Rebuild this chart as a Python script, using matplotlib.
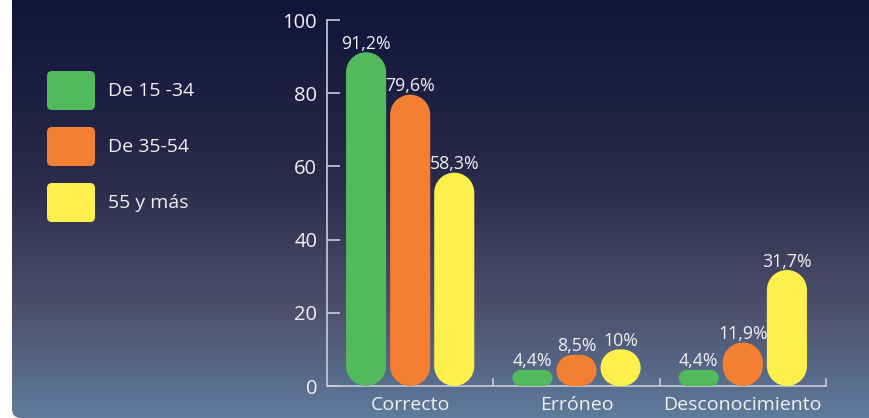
import numpy as np
import matplotlib.pyplot as plt
from matplotlib.patches import FancyBboxPatch, PathPatch
from matplotlib.path import Path
from matplotlib.colors import LinearSegmentedColormap

#data
categories = ['Correcto', 'Erróneo', 'Desconocimiento']
groups = ['De 15 -34', 'De 35-54', '55 y más']
values_15_34 = [91.2, 4.4, 4.4]
values_35_54 = [79.6, 8.5, 11.9]
values_55_mas = [58.3, 10, 31.7]
yticks = [0, 20, 40, 60, 80, 100]

colors = ['#52b95c', '#f37f32', '#fef04c']
text_color = '#f0f0f4'
axis_color = '#c9cdd8'

plt.rcParams['font.family'] = ['Open Sans', 'DejaVu Sans']

W, H = 869, 418
fig = plt.figure(figsize=(W / 100, H / 100), dpi=100)
fig.patch.set_facecolor('white')

#background panel in pixel coordinates, gradient clipped to rounded box
bg = fig.add_axes([0, 0, 1, 1])
bg.set_xlim(0, W)
bg.set_ylim(H, 0)
bg.axis('off')
cmap = LinearSegmentedColormap.from_list('bg', [(0, '#0c1237'), (0.45, '#2a2a4a'),
                                                (0.75, '#4d4f6b'), (1, '#5f7b9c')])
grad = np.linspace(0, 1, 256).reshape(-1, 1)
im = bg.imshow(grad, cmap=cmap, extent=[12, W + 20, H, -20], aspect='auto')
panel = FancyBboxPatch((12, -20), W + 8, H + 20, boxstyle='round,pad=0,rounding_size=9',
                       facecolor='none', edgecolor='none')
bg.add_patch(panel)
im.set_clip_path(panel)

#legend with rounded swatches
for i, (g, c) in enumerate(zip(groups, colors)):
    y0 = 71 + i * 56
    bg.add_patch(FancyBboxPatch((47, y0), 48, 39, boxstyle='round,pad=0,rounding_size=5',
                                facecolor=c, edgecolor='none'))
    bg.text(108, y0 + 19.5, g, va='center', ha='left', color=text_color, fontsize=14)

#main chart
ax = fig.add_axes([327 / W, 1 - 386 / H, (826 - 327) / W, 366 / H])
ax.patch.set_alpha(0)
ax.set_xlim(-0.5, len(categories) - 0.5)
ax.set_ylim(0, 100)

#pixels per data unit, so the rounded ends come out circular on screen
px_x = ax.get_position().width * W / len(categories)
px_y = ax.get_position().height * H / 100

def pill(xc, w, h):
    #rounded bar (stadium) built in pixel space then mapped to data units
    wp, hp = w * px_x, h * px_y
    r = min(wp, hp) / 2
    centers = [(wp / 2 - r, r, 270), (wp / 2 - r, hp - r, 0),
               (-wp / 2 + r, hp - r, 90), (-wp / 2 + r, r, 180)]
    verts, codes = [], []
    for cx, cy, a in centers:
        arc = Path.arc(a, a + 90)
        v = arc.vertices * r + [cx, cy]
        c = list(arc.codes)
        c[0] = Path.MOVETO if not codes else Path.LINETO
        verts.extend(v)
        codes.extend(c)
    verts.append(verts[0])
    codes.append(Path.CLOSEPOLY)
    verts = np.array(verts) / [px_x, px_y] + [xc, 0]
    return Path(verts, codes)

def fmt(v):
    return '{:g}'.format(v).replace('.', ',') + '%'

bar_w = 0.241
step = 0.265
series = [values_15_34, values_35_54, values_55_mas]
for j, vals in enumerate(series):
    for i, v in enumerate(vals):
        x = i + (j - 1) * step
        ax.add_patch(PathPatch(pill(x, bar_w, v), facecolor=colors[j],
                               edgecolor='none', zorder=3))
        ax.annotate(fmt(v), (x, v), xytext=(0, 2.5), textcoords='offset points',
                    ha='center', va='baseline', fontsize=12.8, color=text_color, zorder=4)

for s in ['top', 'right']:
    ax.spines[s].set_visible(False)
for s in ['left', 'bottom']:
    ax.spines[s].set_color(axis_color)
    ax.spines[s].set_linewidth(1.2)

ax.set_yticks(yticks)
ax.tick_params(axis='y', direction='in', length=9, width=1.2, color=axis_color,
               labelsize=14.5, labelcolor=text_color, pad=7)
ax.set_xticks(range(len(categories)), categories)
ax.set_xticks([0.5, 1.5, 2.5], minor=True)
ax.tick_params(axis='x', which='major', length=0, labelsize=14, labelcolor=text_color, pad=7)
ax.tick_params(axis='x', which='minor', direction='in', length=6, width=1.2, color=axis_color)

fig.savefig('out.png', dpi=100)
